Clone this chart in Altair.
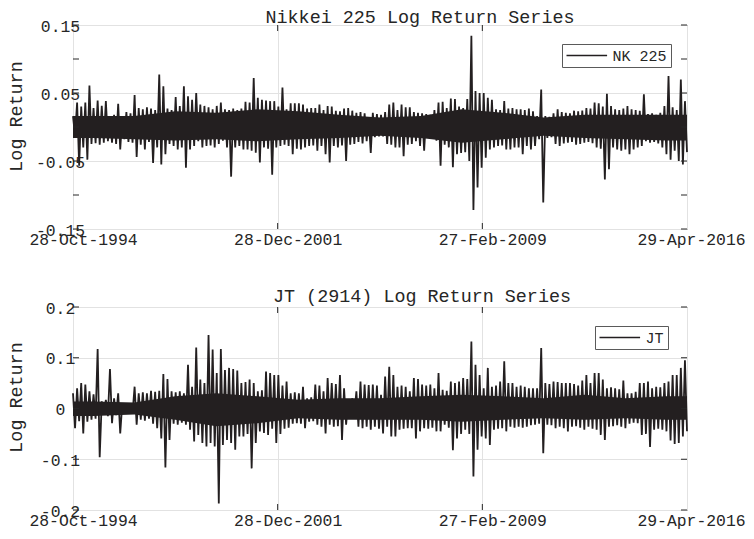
import altair as alt
import numpy as np
import pandas as pd

FONT = "Liberation Mono"
TXT = "#262626"
LINE = "#231f20"
GRID = "#e2e2e2"
FRAME = "#262626"

START_DATE = "1994-10-28"
END_DATE = "2016-04-29"
X_TICK_DATES = ["1994-10-28", "2001-12-28", "2009-02-27", "2016-04-29"]
INNER_X_TICKS = ["2001-12-28", "2009-02-27"]

NK_TITLE = "Nikkei 225 Log Return Series"
JT_TITLE = "JT (2914) Log Return Series"
NK_NAME = "NK 225"
JT_NAME = "JT"
NK_YTICKS = [-0.15, -0.1, -0.05, 0, 0.05, 0.1, 0.15]
JT_YTICKS = [-0.2, -0.1, 0, 0.1, 0.2]

# Values, in thousandths of a log return:
# the highest / lowest return inside each of 150 short time blocks.
NK_HI = [16, 36, 30, 36, 61, 28, 39, 31, 38, 14,
         18, 34, 16, 22, 20, 47, 28, 26, 29, 27,
         25, 77, 60, 27, 25, 44, 31, 60, 45, 40,
         50, 33, 31, 29, 26, 31, 36, 26, 25, 27,
         25, 27, 37, 36, 72, 43, 40, 39, 38, 38,
         30, 58, 26, 35, 35, 35, 33, 27, 28, 28,
         33, 25, 31, 30, 24, 23, 27, 28, 24, 21,
         22, 20, 14, 21, 19, 18, 22, 33, 36, 25,
         33, 29, 29, 22, 21, 20, 19, 18, 25, 36,
         37, 28, 42, 41, 30, 28, 41, 134, 53, 50,
         50, 43, 40, 26, 25, 38, 27, 28, 26, 26,
         25, 27, 23, 16, 55, 16, 15, 20, 26, 22,
         21, 20, 24, 23, 24, 28, 27, 36, 35, 30,
         49, 31, 26, 25, 27, 31, 26, 25, 24, 48,
         19, 20, 18, 21, 31, 75, 29, 25, 70, 38]
NK_LO = [-13, -57, -30, -48, -25, -24, -26, -23, -21, -23,
         -25, -33, -18, -22, -23, -44, -26, -33, -22, -53,
         -30, -55, -40, -25, -28, -33, -30, -60, -33, -28,
         -21, -30, -28, -27, -30, -25, -20, -30, -73, -30,
         -28, -33, -33, -35, -38, -52, -30, -32, -70, -30,
         -28, -26, -28, -40, -32, -33, -30, -28, -27, -35,
         -28, -40, -52, -28, -30, -27, -50, -26, -25, -22,
         -24, -21, -38, -15, -14, -14, -25, -26, -30, -30,
         -43, -26, -25, -21, -28, -35, -16, -16, -20, -57,
         -26, -30, -59, -40, -38, -37, -50, -122, -89, -60,
         -45, -33, -30, -28, -27, -33, -33, -30, -30, -40,
         -28, -33, -28, -18, -111, -16, -15, -25, -28, -24,
         -23, -22, -26, -25, -23, -22, -24, -30, -32, -77,
         -62, -30, -33, -35, -33, -40, -33, -30, -28, -21,
         -23, -22, -24, -30, -40, -48, -35, -50, -55, -37]
# edges of the solid dark core band, one value per 10 blocks
NK_CORE_UP = [16, 16, 23, 21, 26, 23, 18, 14, 16, 26, 21, 14, 18, 18, 18]
NK_CORE_DN = [-16, -18, -20, -18, -21, -18, -16, -13, -16, -23, -18, -13, -16, -18, -20]

JT_HI = [30, 40, 50, 47, 34, 28, 117, 14, 17, 78,
         20, 30, 10, 8, 10, 43, 30, 32, 30, 35,
         33, 35, 68, 58, 34, 32, 34, 30, 86, 43,
         120, 57, 50, 145, 116, 70, 117, 76, 80, 78,
         75, 50, 52, 57, 50, 34, 36, 73, 70, 66,
         66, 45, 53, 30, 32, 30, 43, 20, 22, 47,
         45, 34, 60, 50, 48, 66, 40, 17, 20, 34,
         53, 47, 46, 47, 45, 27, 63, 82, 66, 43,
         45, 43, 34, 60, 58, 47, 45, 47, 40, 70,
         37, 35, 53, 50, 53, 60, 58, 132, 86, 66,
         40, 80, 43, 45, 53, 93, 50, 50, 43, 45,
         43, 40, 40, 40, 119, 50, 48, 53, 52, 50,
         50, 50, 48, 45, 55, 66, 50, 70, 70, 57,
         40, 42, 40, 38, 55, 30, 30, 33, 50, 50,
         53, 40, 43, 42, 50, 53, 66, 66, 80, 95]
JT_LO = [-39, -25, -49, -26, -22, -20, -96, -9, -15, -29,
         -13, -49, -9, -8, -9, -32, -22, -24, -20, -30,
         -39, -59, -116, -62, -30, -32, -28, -32, -42, -65,
         -52, -68, -75, -68, -75, -187, -72, -62, -68, -81,
         -55, -55, -50, -118, -68, -45, -48, -52, -40, -68,
         -50, -40, -38, -30, -29, -30, -39, -26, -25, -32,
         -36, -49, -32, -36, -35, -62, -32, -9, -12, -36,
         -39, -36, -42, -36, -40, -49, -36, -55, -55, -42,
         -40, -39, -39, -59, -45, -39, -40, -38, -45, -45,
         -32, -38, -82, -59, -50, -42, -50, -134, -81, -55,
         -59, -72, -42, -40, -39, -45, -36, -38, -36, -38,
         -36, -33, -32, -30, -88, -32, -33, -39, -36, -39,
         -45, -36, -35, -38, -42, -36, -40, -42, -52, -62,
         -36, -35, -33, -36, -39, -30, -28, -29, -52, -50,
         -76, -42, -40, -42, -45, -63, -70, -68, -55, -45]
JT_CORE_UP = [14, 12, 24, 30, 24, 17, 20, 20, 24, 27, 24, 20, 27, 20, 24]
JT_CORE_DN = [-15, -12, -22, -35, -29, -19, -22, -22, -22, -26, -22, -19, -22, -19, -22]


def ms(d):
    return int(pd.Timestamp(d, tz="UTC").value // 1_000_000)


T0, T1 = ms(START_DATE), ms(END_DATE)
XTICKS = [ms(d) for d in X_TICK_DATES]
INNER_XT = [ms(d) for d in INNER_X_TICKS]


def zigzag_frame(hi, lo, name):
    vals = []
    for h_, l_ in zip(hi, lo):
        vals.extend([h_, l_])
    return pd.DataFrame({"t": np.linspace(T0, T1, len(vals)),
                         "r": np.array(vals) / 1000.0, "series": name})


def core_frame(up, dn):
    g = len(up)
    t = [T0] + [T0 + (i + 0.5) * (T1 - T0) / g for i in range(g)] + [T1]
    u = [up[0]] + list(up) + [up[-1]]
    d = [dn[0]] + list(dn) + [dn[-1]]
    return pd.DataFrame({"t": t, "cu": np.array(u) / 1000.0, "cd": np.array(d) / 1000.0})


W = 614
LEGEND_LINE = "M-1,0H4.8"   # legend sample: a long horizontal stroke
LAST_LABEL_OFFSET = {"condition": {"test": f"datum.value >= {XTICKS[-1]}", "value": 4}, "value": 10}


def panel(zz, core_df, title, name, yticks, ydom, h, leg_x, leg_y, title_dx, title_off, ytitle_y):
    x = alt.X("t:T", scale=alt.Scale(type="utc", domain=[T0, T1]),
              axis=alt.Axis(values=XTICKS, labelExpr="utcFormat(datum.value, '%d-%b-%Y')",
                            title=None, grid=True, gridColor=GRID, gridWidth=1,
                            ticks=False, tickSize=0, domain=False,
                            labelPadding=2, labelOffset=LAST_LABEL_OFFSET, labelAlign="center",
                            labelFont=FONT, labelFontSize=16.4, labelColor=TXT,
                            labelOverlap=False, labelFlush=False, labelBound=False))
    y = alt.Y("r:Q", scale=alt.Scale(domain=ydom, nice=False, zero=False),
              axis=alt.Axis(values=yticks, labelExpr="'' + datum.value", title="Log Return",
                            titleX=-51.5, titleY=ytitle_y, titleAngle=270, titleAlign="center",
                            titleBaseline="alphabetic", titleFont=FONT, titleFontSize=18.4,
                            titleFontWeight="normal", titleColor=TXT,
                            grid=True, gridColor=GRID, gridWidth=1,
                            ticks=False, tickSize=0, domain=False,
                            labelAlign="center", labelBaseline="middle", labelPadding=13,
                            labelOffset=1, labelFont=FONT, labelFontSize=16.4, labelColor=TXT,
                            labelOverlap=False, labelFlush=False))
    color = alt.Color("series:N", scale=alt.Scale(domain=[name], range=[LINE]),
                      legend=alt.Legend(title=None, orient="none", legendX=leg_x, legendY=leg_y,
                                        symbolType=LEGEND_LINE, symbolSize=196,
                                        symbolStrokeWidth=1.3,
                                        labelFont=FONT, labelFontSize=15, labelColor=TXT,
                                        labelOffset=31, padding=3.5, strokeColor="#5a5a5a",
                                        fillColor="white"))
    line = alt.Chart(zz).mark_line(strokeWidth=1.8, strokeJoin="bevel").encode(x=x, y=y, color=color)
    core = alt.Chart(core_df).mark_area(color=LINE).encode(x="t:T", y=alt.Y("cd:Q"), y2="cu:Q")

    ytick_df = pd.DataFrame({"r": yticks})
    xtick_df = pd.DataFrame({"t": INNER_XT})
    rule = dict(color=FRAME, strokeWidth=1)
    lt = alt.Chart(ytick_df).mark_rule(**rule).encode(y="r:Q", x=alt.value(0), x2=alt.value(6))
    rt = alt.Chart(ytick_df).mark_rule(**rule).encode(y="r:Q", x=alt.value(W - 6), x2=alt.value(W))
    tt = alt.Chart(xtick_df).mark_rule(**rule).encode(x="t:T", y=alt.value(0), y2=alt.value(6))
    bt = alt.Chart(xtick_df).mark_rule(**rule).encode(x="t:T", y=alt.value(h - 6), y2=alt.value(h))

    return alt.layer(line, core, lt, rt, tt, bt).properties(
        width=W, height=h,
        title=alt.TitleParams(title, font=FONT, fontSize=18.4, fontWeight="normal", color=TXT,
                              anchor="middle", frame="group", dx=title_dx, offset=title_off,
                              baseline="alphabetic"))


top = panel(zigzag_frame(NK_HI, NK_LO, NK_NAME), core_frame(NK_CORE_UP, NK_CORE_DN),
            NK_TITLE, NK_NAME, NK_YTICKS, [-0.15, 0.15], 204, 489, 19, 40, -23.4, 91)
bottom = panel(zigzag_frame(JT_HI, JT_LO, JT_NAME), core_frame(JT_CORE_UP, JT_CORE_DN),
               JT_TITLE, JT_NAME, JT_YTICKS, [-0.2, 0.2], 203, 522, 19, 42, -20.1, 90)

chart = (
    alt.vconcat(top, bottom, spacing=78, bounds="flush")
    .resolve_scale(color="independent", y="independent")
    .properties(padding={"top": -1, "left": -2, "right": 0, "bottom": 0})
    .configure(background="white")
    .configure_view(stroke=FRAME, strokeWidth=1)
)

chart.save("out.html", embed_options={"renderer": "svg", "actions": False})
